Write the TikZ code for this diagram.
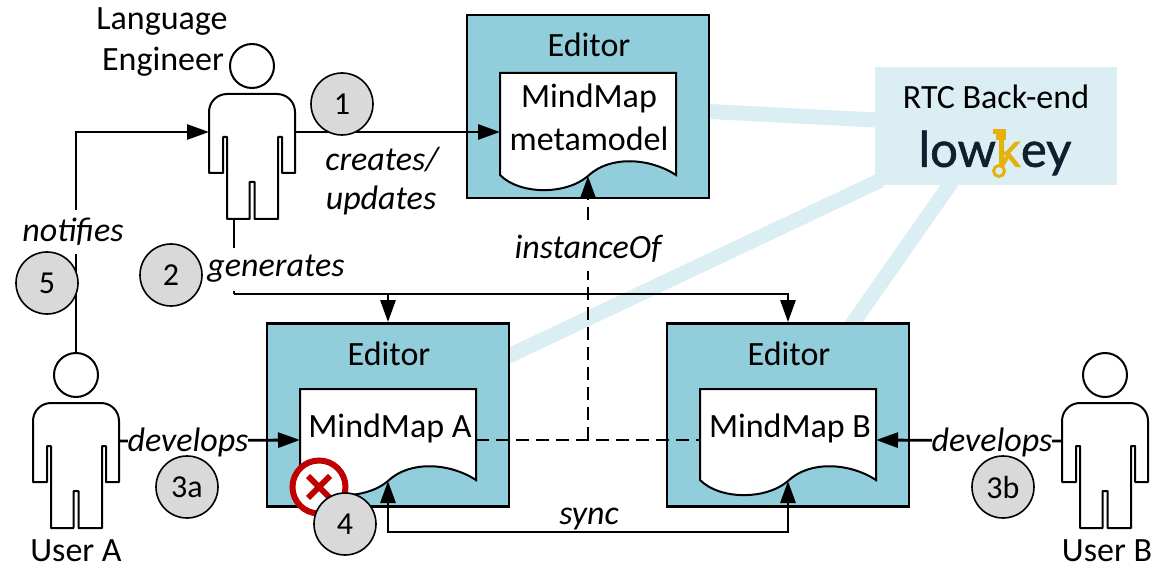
\documentclass[tikz,border=0pt]{standalone}
\usepackage{fontspec}
\setmainfont{Carlito}
\newfontfamily\logofont[FakeBold=1.2]{Lato}
\usetikzlibrary{arrows.meta,calc,backgrounds}
\definecolor{editorfill}{HTML}{92CDDC}
\definecolor{backend}{HTML}{DAEEF3}
\definecolor{badge}{HTML}{D9D9D9}
\definecolor{errred}{HTML}{C00000}
\definecolor{keygold}{HTML}{E5B10F}
\definecolor{logoink}{HTML}{0F1F2E}
\tikzset{
  x=1pt,y=-1pt,
  labeltext/.style={font=\fontsize{34}{40}\selectfont,inner sep=0pt,text=black},
  flowlabel/.style={font=\fontsize{34}{40}\selectfont\itshape,inner sep=0pt,text=black},
  coverlabel/.style={flowlabel,fill=white,minimum height=43pt},
  editorbox/.style={draw=black,line width=2.8pt,fill=editorfill,minimum width=242pt,minimum height=183pt,inner sep=0pt},
  badgecircle/.style={circle,draw=black,line width=1.6pt,fill=badge,minimum size=62pt,inner sep=0pt,font=\fontsize{32}{38}\selectfont},
  link/.style={line width=2.8pt,draw=black},
  tip/.style={-{Triangle[length=22pt,width=15pt]}},
  dashlink/.style={link,dash pattern=on 13pt off 7pt},
  rtclink/.style={draw=backend,line width=15pt},
  pics/person/.style={code={
    \draw[line width=2pt,fill=white] (0,0) circle[radius=22];
    \draw[line width=2pt,fill=white,line join=round]
      (-43,46) .. controls (-43,36) and (-35,28) .. (-25,28) -- (25,28)
      .. controls (35,28) and (43,36) .. (43,46) -- (43,107) -- (30,107) -- (30,71) -- (26,71)
      -- (26,153) -- (2.5,153) -- (2.5,116) -- (-2.5,116) -- (-2.5,153) -- (-25,153)
      -- (-25,71) -- (-29,71) -- (-29,107) -- (-43,107) -- cycle;
    \coordinate (-t) at (0,-22);
    \coordinate (-l) at (-43,66);
    \coordinate (-r) at (43,66);
    \coordinate (-b) at (-18,153);
  }},
  pics/document/.style={code={
    \draw[line width=2pt,fill=white,line join=miter]
      (0,0) -- (176,0) -- (176,#1)
      .. controls (150,{#1-17}) and (110,{#1-20}) .. (88,{#1+1})
      .. controls (66,{#1+20}) and (20,{#1+20}) .. (0,#1) -- cycle;
    \coordinate (-w) at (0,51);
    \coordinate (-e) at (176,51);
    \coordinate (-m) at (88,{#1+1});
  }},
}
\begin{document}
\begin{tikzpicture}
\useasboundingbox (0,0) rectangle (1171,567);

\node (rtc) [fill=backend,minimum width=242pt,minimum height=118pt,inner sep=0pt] at (996,126) {};
\node (edTop) [editorbox] at (588,106.5) {};
\node (edA) [editorbox] at (388,415) {};
\node (edB) [editorbox] at (788,415) {};

% links to the back-end, behind the boxes
\coordinate (rtcTop) at (875,120);
\coordinate (rtcA) at (881,180);
\coordinate (rtcB) at (953,180);
\coordinate (edTopPort) at (700,111);
\coordinate (edAPort) at (500,360);
\coordinate (edBPort) at (848,330);
\begin{scope}[on background layer]
\draw[rtclink] (edTopPort) -- (rtcTop);
\draw[rtclink] (edAPort) -- (rtcA);
\draw[rtclink] (edBPort) -- (rtcB);
\end{scope}

\node (edTopLabel) [labeltext] at (589,45) {Editor};
\node (edALabel) [labeltext] at (389,354) {Editor};
\node (edBLabel) [labeltext] at (789,354) {Editor};

\pic (docTop) at (500,73) {document=102};
\pic (docA) at (300,389) {document=91};
\pic (docB) at (700,389) {document=91};

\node (mm1) [labeltext] at (589,98) {MindMap};
\node (mm2) [labeltext] at (589,139) {metamodel};
\node (mmA) [labeltext] at (390,428) {MindMap A};
\node (mmB) [labeltext] at (790,428) {MindMap B};

\node (rtcLabel) [labeltext] at (996,97) {RTC Back-end};
\node (logo) [font=\fontsize{49}{56}\logofont,inner sep=0pt,text=logoink] at (995,153) {low\textcolor{keygold}{k}ey};
\draw[keygold,line width=3pt] (999,171) circle[radius=5.5];
\draw[keygold,line width=4pt] (1002,166) -- (1009,154);
\fill[keygold] (993,129) rectangle (1006,134);
\fill[keygold] (996,134) rectangle (1006,140);

% people
\pic (eng) at (252,66) {person};
\pic (usrA) at (76,375) {person};
\pic (usrB) at (1105,375) {person};
\node (engLabel1) [labeltext] at (162,22) {Language};
\node (engLabel2) [labeltext] at (163,62) {Engineer};
\node (usrALabel) [labeltext] at (76,551) {User A};
\node (usrBLabel) [labeltext] at (1107,551) {User B};

% connectors
\draw[link,tip] (eng-r) -- (docTop-w |- eng-r);
\draw[link,tip] (usrA-t) |- (eng-l);
\coordinate (genbus) at (234,294);
\draw[link] (eng-b) -- (genbus);
\draw[link,tip] (genbus) -| (edB.north);
\draw[link,tip] (genbus -| edA.north) -- (edA.north);
\draw[link,tip] (usrA-r) -- (docA-w);
\draw[link,tip] (usrB-l) -- (docB-e);
\coordinate (syncbus) at (588,532);
\draw[link,{Triangle[length=22pt,width=15pt]}-{Triangle[length=22pt,width=15pt]}] (docA-m) |- (syncbus) -| (docB-m);
\draw[dashlink] (docA-e) -- (docB-w);
\coordinate (instJoin) at (docTop-m |- docA-e);
\draw[dashlink,tip] (instJoin) -- (docTop-m);

% connector labels
\node (lblCreates) [flowlabel] at (382,160) {creates/};
\node (lblUpdates) [flowlabel] at (381,200) {updates};
\node (lblNotifies) [coverlabel] at (73,232) {notifies};
\node (lblGenerates) [coverlabel] at (276,269) {generates};
\node (lblInstance) [coverlabel] at (588,249) {instanceOf};
\node (lblDevA) [coverlabel] at (188,442) {develops};
\node (lblDevB) [coverlabel] at (992,442) {develops};
\node (lblSync) [flowlabel] at (589,519) {sync};

% badges
\node (errIcon) [circle,draw=errred,line width=6pt,fill=white,minimum size=53pt,inner sep=0pt] at (319,487) {};
\draw[errred,line width=6pt] (308,476) -- (330,498) (330,476) -- (308,498);
\node (b1) [badgecircle] at (342,104) {1};
\node (b2) [badgecircle] at (171,275) {2};
\node (b3a) [badgecircle] at (187,487) {3a};
\node (b3b) [badgecircle] at (1003,487) {3b};
\node (b4) [badgecircle] at (345,524) {4};
\node (b5) [badgecircle] at (47,283) {5};
\end{tikzpicture}
\end{document}
